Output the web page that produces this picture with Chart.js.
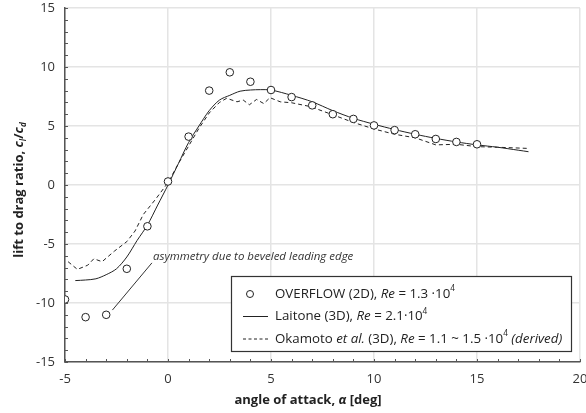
<!DOCTYPE html>
<html>
<head>
<meta charset="utf-8">
<script src="https://cdn.jsdelivr.net/npm/chart.js@4.4.1/dist/chart.umd.min.js"></script>
<style>
  html, body { margin: 0; padding: 0; background: #fff; }
</style>
</head>
<body>
<canvas id="chart" width="586" height="413"></canvas>
<script>
// OVERFLOW (2D) points
const overflowAlpha = [-5, -4, -3, -2, -1, 0, 1, 2, 3, 4, 5, 6, 7, 8, 9, 10, 11, 12, 13, 14, 15];
const overflowRatio = [-9.7, -11.2, -11.0, -7.1, -3.5, 0.3, 4.1, 8.0, 9.55, 8.75, 8.05, 7.45, 6.75, 6.0, 5.6, 5.05, 4.65, 4.3, 3.9, 3.65, 3.45];

// Laitone (3D) solid line
const laitoneAlpha = [-4.5, -4, -3.5, -3, -2.5, -2, -1.5, -1, -0.5, 0, 0.5, 1, 1.5, 2, 2.5, 3, 3.5, 4, 4.5, 5, 6, 7, 8, 9, 10, 11, 12, 13, 14, 15, 16, 17, 17.5];
const laitoneRatio = [-8.1, -8.05, -7.95, -7.6, -7.1, -6.1, -4.7, -3.4, -1.7, 0, 1.8, 3.6, 5.0, 6.3, 7.2, 7.6, 7.95, 8.05, 8.08, 8.05, 7.6, 7.05, 6.3, 5.65, 5.15, 4.7, 4.3, 3.95, 3.65, 3.4, 3.2, 2.95, 2.82];

// Okamoto et al. (3D) dashed line
const okamotoAlpha = [-4.85, -4.4, -3.9, -3.6, -3.2, -2.6, -2, -1.6, -1.2, -0.6, 0, 0.5, 1, 1.5, 2, 2.5, 2.85, 3.35, 3.65, 3.95, 4.3, 4.65, 4.95, 5.45, 6, 6.9, 8, 9, 10, 11, 12, 13, 14, 15, 16, 17.5];
const okamotoRatio = [-6.5, -7.15, -6.8, -6.25, -6.5, -5.6, -4.8, -3.9, -2.5, -1.2, 0.2, 1.8, 3.3, 4.8, 6.1, 7.0, 7.35, 7.05, 7.2, 6.8, 7.25, 6.9, 7.4, 7.05, 6.97, 6.65, 5.95, 5.3, 4.75, 4.3, 4.0, 3.4, 3.45, 3.25, 3.2, 3.1];

const xTicks = [-5, 0, 5, 10, 15, 20];
const yTicks = [-15, -10, -5, 0, 5, 10, 15];

const FONT = "'Open Sans', 'DejaVu Sans', sans-serif";
const INK = "#222";

const toPoints = (xs, ys) => xs.map((x, i) => ({ x, y: ys[i] }));

// draws a run of text pieces: {t, i (italic), sup, sub}
function drawRich(ctx, parts, x, y, size, bold) {
  let cx = x;
  parts.forEach((p) => {
    const s = p.sup || p.sub ? size * 0.62 : size;
    ctx.font = `${p.i ? "italic " : ""}${bold ? "bold " : ""}${s}px ${FONT}`;
    const dy = p.sup ? -size * 0.4 : p.sub ? size * 0.25 : 0;
    ctx.fillText(p.t, cx, y + dy);
    cx += ctx.measureText(p.t).width;
  });
  return cx - x;
}
function richWidth(ctx, parts, size, bold) {
  let w = 0;
  parts.forEach((p) => {
    const s = p.sup || p.sub ? size * 0.62 : size;
    ctx.font = `${p.i ? "italic " : ""}${bold ? "bold " : ""}${s}px ${FONT}`;
    w += ctx.measureText(p.t).width;
  });
  return w;
}

const legendRows = [
  { kind: "circle", parts: [{ t: "OVERFLOW (2D), " }, { t: "Re", i: true }, { t: " = 1.3 ·10" }, { t: "4", sup: true }] },
  { kind: "solid", parts: [{ t: "Laitone (3D), " }, { t: "Re", i: true }, { t: " = 2.1·10" }, { t: "4", sup: true }] },
  { kind: "dash", parts: [{ t: "Okamoto " }, { t: "et al.", i: true }, { t: " (3D), " }, { t: "Re", i: true }, { t: " = 1.1 ~ 1.5 ·10" }, { t: "4", sup: true }, { t: " (derived)", i: true }] },
];

const noteText = "asymmetry due to beveled leading edge";
const noteLine = [{ x: -2.7, y: -10.6 }, { x: -0.78, y: -6.6 }];
const noteAt = { x: -0.73, y: -6.35 };

const extras = {
  id: "extras",
  afterDraw(chart) {
    const { ctx, chartArea: a, scales } = chart;
    const xs = scales.x, ys = scales.y;
    ctx.save();

    // minor ticks, inward
    ctx.strokeStyle = "#555";
    ctx.lineWidth = 1;
    for (let v = -5; v <= 20; v++) {
      const px = Math.round(xs.getPixelForValue(v)) + 0.5;
      ctx.beginPath(); ctx.moveTo(px, a.bottom); ctx.lineTo(px, a.bottom - 3); ctx.stroke();
    }
    for (let v = -15; v <= 15; v++) {
      const py = Math.round(ys.getPixelForValue(v)) + 0.5;
      ctx.beginPath(); ctx.moveTo(a.left, py); ctx.lineTo(a.left + 3, py); ctx.stroke();
    }

    // annotation
    ctx.strokeStyle = "#333";
    ctx.lineWidth = 1;
    ctx.beginPath();
    ctx.moveTo(xs.getPixelForValue(noteLine[0].x), ys.getPixelForValue(noteLine[0].y));
    ctx.lineTo(xs.getPixelForValue(noteLine[1].x), ys.getPixelForValue(noteLine[1].y));
    ctx.stroke();
    ctx.fillStyle = "#333";
    ctx.textBaseline = "alphabetic";
    ctx.font = `italic 11.5px ${FONT}`;
    ctx.fillText(noteText, xs.getPixelForValue(noteAt.x), ys.getPixelForValue(noteAt.y));

    // legend box
    const bx = a.right - 349, by = a.bottom - 86, bw = 340, bh = 75;
    ctx.fillStyle = "#fff";
    ctx.fillRect(bx, by, bw, bh);
    ctx.strokeStyle = "#333";
    ctx.lineWidth = 1.2;
    ctx.strokeRect(bx + 0.5, by + 0.5, bw, bh);
    legendRows.forEach((row, i) => {
      const cy = by + 18 + i * 22.5;
      ctx.strokeStyle = INK;
      ctx.lineWidth = 1;
      ctx.setLineDash(row.kind === "dash" ? [3, 2.5] : []);
      if (row.kind === "circle") {
        ctx.beginPath(); ctx.arc(bx + 19, cy, 3.5, 0, Math.PI * 2); ctx.stroke();
      } else {
        ctx.beginPath(); ctx.moveTo(bx + 12, cy); ctx.lineTo(bx + 37, cy); ctx.stroke();
      }
      ctx.setLineDash([]);
      ctx.fillStyle = INK;
      ctx.textBaseline = "middle";
      drawRich(ctx, row.parts, bx + 44, cy, 13.3, false);
    });

    // axis titles
    ctx.fillStyle = INK;
    ctx.textBaseline = "alphabetic";
    const xTitle = [{ t: "angle of attack, " }, { t: "α", i: true }, { t: " [deg]" }];
    const xw = richWidth(ctx, xTitle, 13, true);
    drawRich(ctx, xTitle, 308 - xw / 2, 404, 13, true);

    const yTitle = [{ t: "lift to drag ratio, " }, { t: "c", i: true }, { t: "l", i: true, sub: true }, { t: "/" }, { t: "c", i: true }, { t: "d", i: true, sub: true }];
    const yw = richWidth(ctx, yTitle, 13, true);
    ctx.translate(23, 190);
    ctx.rotate(-Math.PI / 2);
    drawRich(ctx, yTitle, -yw / 2, 0, 13, true);
    ctx.restore();
  },
};

new Chart(document.getElementById("chart"), {
  type: "scatter",
  data: {
    datasets: [
      {
        label: "OVERFLOW (2D)",
        data: toPoints(overflowAlpha, overflowRatio),
        showLine: false,
        pointRadius: 3.8,
        pointBackgroundColor: "#fff",
        pointBorderColor: INK,
        pointBorderWidth: 1,
        order: 0,
      },
      {
        label: "Laitone (3D)",
        data: toPoints(laitoneAlpha, laitoneRatio),
        showLine: true,
        borderColor: INK,
        borderWidth: 1,
        pointRadius: 0,
        tension: 0.3,
        order: 1,
      },
      {
        label: "Okamoto et al. (3D)",
        data: toPoints(okamotoAlpha, okamotoRatio),
        showLine: true,
        borderColor: INK,
        borderWidth: 1,
        borderDash: [4, 3],
        pointRadius: 0,
        order: 2,
      },
    ],
  },
  options: {
    responsive: false,
    animation: false,
    devicePixelRatio: 1,
    layout: { padding: { top: 8, right: 6, left: 0, bottom: 0 } },
    plugins: { legend: { display: false }, tooltip: { enabled: false } },
    scales: {
      x: {
        type: "linear",
        min: -5,
        max: 20,
        afterBuildTicks: (s) => { s.ticks = xTicks.map((v) => ({ value: v })); },
        afterFit: (s) => { s.height = 51; s.paddingLeft = 0; s.paddingRight = 0; },
        ticks: { color: "#333", font: { family: FONT, size: 13 }, padding: 9 },
        grid: { color: "#e4e4e4", lineWidth: 1.5, drawTicks: false },
        border: { color: "#555", width: 1.5 },
      },
      y: {
        min: -15,
        max: 15,
        afterBuildTicks: (s) => { s.ticks = yTicks.map((v) => ({ value: v })); },
        afterFit: (s) => { s.width = 65; s.paddingTop = 0; s.paddingBottom = 0; },
        ticks: { color: "#333", font: { family: FONT, size: 13 }, padding: 10 },
        grid: { color: "#e4e4e4", lineWidth: 1.5, drawTicks: false },
        border: { color: "#555", width: 1.5 },
      },
    },
  },
  plugins: [extras],
});
</script>
</body>
</html>
